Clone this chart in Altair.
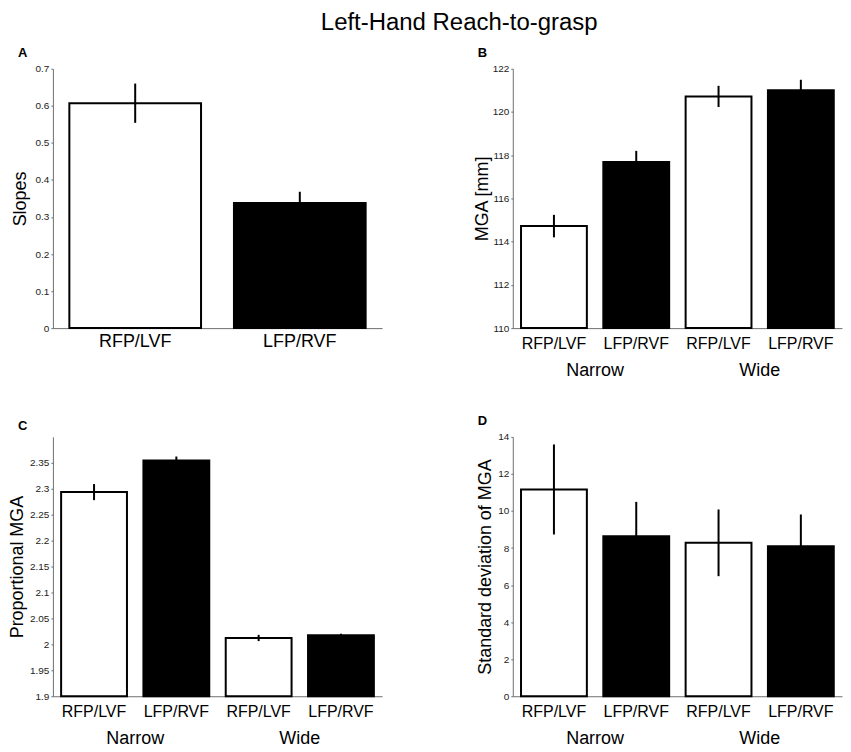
import altair as alt
import pandas as pd

FONT = "Liberation Sans"

conds = ["RFP/LVF", "LFP/RVF"]
groups_ab = ["Narrow", "Narrow", "Wide", "Wide"]
conds4 = ["RFP/LVF", "LFP/RVF", "RFP/LVF", "LFP/RVF"]

# Panel A: slopes
slopes_mean = [0.607, 0.338]
slopes_err = [0.053, 0.030]

# Panel B: MGA [mm]
mga_mean = [114.72, 117.69, 120.72, 121.00]
mga_err = [0.52, 0.51, 0.49, 0.49]

# Panel C: proportional MGA
prop_mean = [2.2935, 2.3544, 2.0123, 2.0175]
prop_err = [0.0155, 0.0077, 0.006, 0.003]

# Panel D: standard deviation of MGA
sd_mean = [11.16, 8.64, 8.28, 8.10]
sd_err = [2.43, 1.85, 1.80, 1.71]

# Tick values
ticksA = [0, 0.1, 0.2, 0.3, 0.4, 0.5, 0.6, 0.7]
ticksB = [110, 112, 114, 116, 118, 120, 122]
ticksC = [1.9, 1.95, 2.0, 2.05, 2.1, 2.15, 2.2, 2.25, 2.3, 2.35]
ticksD = [0, 2, 4, 6, 8, 10, 12, 14]

W, H = 330, 260
AX_GRAY = "#6e6e6e"

fill_scale = alt.Scale(domain=conds, range=["white", "black"])


def yaxis(title, values, pad):
    return alt.Axis(
        title=title, values=values, tickCount=40, format="~g", grid=False,
        tickSize=2, tickColor=AX_GRAY, domainColor=AX_GRAY,
        labelFontSize=10, labelColor="#222222", labelPadding=2,
        labelOverlap=False,
        titleFontSize=18, titleFontWeight="normal", titleColor="black",
        titlePadding=pad, labelFont=FONT, titleFont=FONT,
    )


def letter(txt):
    return alt.TitleParams(
        txt, anchor="start", frame="group", dx=-35, offset=-6,
        fontSize=13, fontWeight="bold", font=FONT, baseline="alphabetic",
    )


# ---- Panel A ----
dfA = pd.DataFrame({"cond": conds, "mean": slopes_mean, "err": slopes_err})
baseA = alt.Chart(dfA).transform_calculate(
    lo="datum.mean - datum.err", hi="datum.mean + datum.err"
)
xA = alt.X(
    "cond:N", sort=conds,
    scale=alt.Scale(paddingInner=0.2, paddingOuter=0.1),
    axis=alt.Axis(title=None, labelAngle=0, ticks=False, labelPadding=4,
                  labelFontSize=18, labelColor="black", domainColor=AX_GRAY,
                  labelFont=FONT),
)
yA_scale = alt.Scale(domain=[0, 0.7], nice=False)
barsA = baseA.mark_bar(stroke="black", strokeWidth=2).encode(
    x=xA,
    y=alt.Y("mean:Q", scale=yA_scale, axis=yaxis("Slopes", ticksA, 6)),
    fill=alt.Fill("cond:N", scale=fill_scale, legend=None),
)
errA = baseA.mark_rule(color="black", strokeWidth=2).encode(
    x=alt.X("cond:N", sort=conds), y="lo:Q", y2="hi:Q"
)
chartA = alt.layer(barsA, errA).properties(width=W, height=H, title=letter("A"))


def grouped_panel(means, errs, ymin, ymax, yvals, ytitle, tpad, ltr):
    df = pd.DataFrame({"group": groups_ab, "cond": conds4,
                       "mean": means, "err": errs})
    base = alt.Chart(df).transform_calculate(
        lo="datum.mean - datum.err", hi="datum.mean + datum.err"
    )
    x = alt.X(
        "group:N", sort=["Narrow", "Wide"],
        scale=alt.Scale(paddingInner=0, paddingOuter=0),
        axis=alt.Axis(title=None, labelAngle=0, ticks=False, labelPadding=33,
                      labelFontSize=18, labelColor="black",
                      domainColor=AX_GRAY, labelFont=FONT),
    )
    xo = alt.XOffset("cond:N", sort=conds,
                     scale=alt.Scale(paddingInner=0.2, paddingOuter=0.1))
    ysc = alt.Scale(domain=[ymin, ymax], nice=False, zero=False)
    bars = base.mark_bar(stroke="black", strokeWidth=2).encode(
        x=x, xOffset=xo,
        y=alt.Y("mean:Q", scale=ysc, axis=yaxis(ytitle, yvals, tpad)),
        y2=alt.datum(ymin),
        fill=alt.Fill("cond:N", scale=fill_scale, legend=None),
    )
    err = base.mark_rule(color="black", strokeWidth=2).encode(
        x=alt.X("group:N", sort=["Narrow", "Wide"]), xOffset=xo,
        y="lo:Q", y2="hi:Q",
    )
    labels = base.mark_text(
        fontSize=16, font=FONT, baseline="alphabetic", dy=21, color="black"
    ).encode(
        x=alt.X("group:N", sort=["Narrow", "Wide"]), xOffset=xo,
        y=alt.datum(ymin), text="cond:N",
    )
    return alt.layer(bars, err, labels).properties(
        width=W, height=H, title=letter(ltr)
    )


chartB = grouped_panel(mga_mean, mga_err, 110, 122, ticksB, "MGA [mm]", 1, "B")
chartC = grouped_panel(prop_mean, prop_err, 1.9, 2.4, ticksC,
                       "Proportional MGA", 3, "C")
chartD = grouped_panel(sd_mean, sd_err, 0, 14, ticksD,
                       "Standard deviation of MGA", 3, "D")

chart = alt.concat(
    chartA, chartB, chartC, chartD, columns=2,
    spacing=alt.RowColnumber(row=109, column=131), bounds="flush",
).properties(
    title=alt.TitleParams(
        "Left-Hand Reach-to-grasp", fontSize=24, fontWeight="normal",
        font=FONT, anchor="middle", dx=34, offset=11, color="black",
    ),
    padding={"left": 0, "top": 2, "right": 0, "bottom": 0},
    background="white",
).configure_view(stroke="transparent")

chart.save("out.html", embed_options={"renderer": "svg", "actions": False})
